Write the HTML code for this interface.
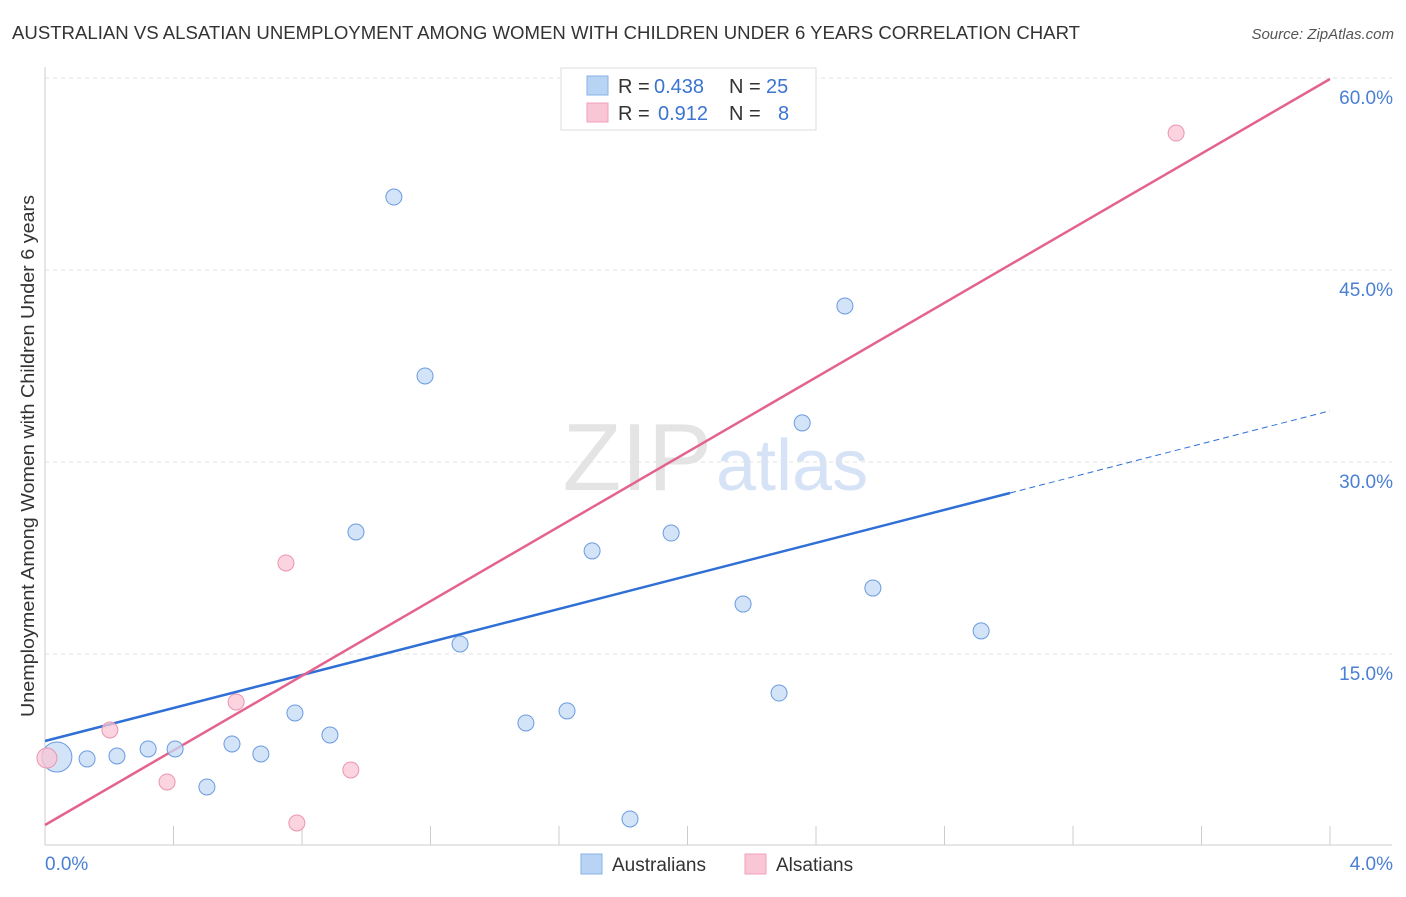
<!DOCTYPE html>
<html><head><meta charset="utf-8"><style>
body{margin:0;background:#fff;font-family:"Liberation Sans",sans-serif}
svg text{font-family:"Liberation Sans",sans-serif}
</style></head><body>
<svg id="c" width="1406" height="892">
<text x="12" y="39" font-size="18" fill="#333" textLength="1068" lengthAdjust="spacingAndGlyphs">AUSTRALIAN VS ALSATIAN UNEMPLOYMENT AMONG WOMEN WITH CHILDREN UNDER 6 YEARS CORRELATION CHART</text>
<text x="1394" y="39" font-size="15" fill="#555" font-style="italic" text-anchor="end">Source: ZipAtlas.com</text>
<text x="712" y="490" font-size="96" fill="#e4e4e4" text-anchor="end" font-family="Liberation Serif">ZIP</text>
<text x="716" y="490" font-size="72" fill="#d6e2f5">atlas</text>
<text transform="translate(34,456) rotate(-90)" font-size="18" fill="#333" text-anchor="middle" textLength="522" lengthAdjust="spacingAndGlyphs">Unemployment Among Women with Children Under 6 years</text>
<g id="grid"></g><g id="lines"></g><g id="pts"></g>
<g>
<rect x="561" y="68" width="255" height="62" fill="#fff" stroke="#ddd"/>
<rect x="587" y="76" width="21" height="19" fill="#b9d3f5" stroke="#8ab0e8"/>
<rect x="587" y="103" width="21" height="19" fill="#f9c6d6" stroke="#f0a0ba"/>
<text x="618" y="93" font-size="20" fill="#333">R =</text>
<text x="654" y="93" font-size="20" fill="#3b74d1">0.438</text>
<text x="729" y="93" font-size="20" fill="#333">N =</text>
<text x="766" y="93" font-size="20" fill="#3b74d1">25</text>
<text x="618" y="120" font-size="20" fill="#333">R =</text>
<text x="658" y="120" font-size="20" fill="#3b74d1">0.912</text>
<text x="729" y="120" font-size="20" fill="#333">N =</text>
<text x="778" y="120" font-size="20" fill="#3b74d1">8</text>
</g>
<g>
<rect x="581" y="854" width="21" height="20" fill="#b9d3f5" stroke="#8ab0e8"/>
<text x="612" y="871" font-size="19" fill="#333">Australians</text>
<rect x="745" y="854" width="21" height="20" fill="#f9c6d6" stroke="#f0a0ba"/>
<text x="776" y="871" font-size="19" fill="#333">Alsatians</text>
</g>
</svg>
<script>
const yTicks=[15,30,45,60];
const yTickLabels=["15.0%","30.0%","45.0%","60.0%"];
const xEndLabels=["0.0%","4.0%"];
const ausX=[0.037,0.131,0.224,0.321,0.405,0.504,0.582,0.672,0.778,0.887,0.968,1.086,1.183,1.292,1.497,1.625,1.703,1.821,1.949,2.173,2.285,2.357,2.490,2.577,2.914];
const ausY=[7.03,6.88,7.11,7.66,7.66,4.69,8.05,7.27,10.47,8.75,24.61,50.78,36.80,15.86,9.69,10.63,23.13,2.19,24.53,18.98,12.03,33.13,42.27,20.23,16.88];
const alsX=[0.006,0.202,0.380,0.595,0.750,0.784,0.952,3.521];
const alsY=[6.95,9.14,5.08,11.33,22.19,1.875,6.02,55.78];
const ausFit=[8.28,6.45]; // intercept, slope
const alsFit=[1.72,14.57];
const NS="http://www.w3.org/2000/svg";
const X=v=>45+v*321.25, Y=v=>847-v*12.8;
function mk(p,t,a){const e=document.createElementNS(NS,t);for(const k in a)e.setAttribute(k,a[k]);p.appendChild(e);return e;}
const g=document.getElementById('grid');
yTicks.forEach((t,i)=>{
 const l=mk(g,'line',{x1:45,x2:1392,y1:Y(t)-1,y2:Y(t)-1,stroke:'#e2e2e2','stroke-dasharray':'4,4'});
 
 
 const tx=mk(g,'text',{x:1393,y:Y(t)+25,'font-size':19,fill:'#4a7fd4','text-anchor':'end'});
 tx.textContent=yTickLabels[i];
 
 
});
const ax=mk(g,'line',{x1:45,x2:1392,y1:845,y2:845,stroke:'#ccc'});


const ay=mk(g,'line',{x1:45,x2:45,y1:67,y2:845,stroke:'#ccc'});


for(let i=1;i<=10;i++){const t=mk(g,'line',{x1:X(i*0.4),x2:X(i*0.4),y1:826,y2:845,stroke:'#ccc'});
 
 }
[[0,'start',45],[4,'end',1393]].forEach((d,i)=>{const t=mk(g,'text',{x:d[2],y:870,'font-size':19,fill:'#4a7fd4','text-anchor':d[1]});t.textContent=xEndLabels[i];
 
 });
const L=document.getElementById('lines');
let a=mk(L,'line',{x1:X(0),y1:Y(ausFit[0]),x2:X(3.004),y2:Y(ausFit[0]+ausFit[1]*3.004),stroke:'#2f6fd6','stroke-width':2.5});


a=mk(L,'line',{x1:X(3.004),y1:Y(ausFit[0]+ausFit[1]*3.004),x2:X(4.0),y2:Y(ausFit[0]+ausFit[1]*4.0),stroke:'#2f6fd6','stroke-width':1,'stroke-dasharray':'6,4'});


a=mk(L,'line',{x1:X(0),y1:Y(alsFit[0]),x2:X(4.0),y2:Y(alsFit[0]+alsFit[1]*4.0),stroke:'#e4638e','stroke-width':2.5});


const P=document.getElementById('pts');
ausX.forEach((x,i)=>{const c=mk(P,'circle',{cx:X(x),cy:Y(ausY[i]),r:i==0?15:8,fill:'#c4daf6','fill-opacity':0.75,stroke:'#6a9be0','stroke-width':1});
 
 });
alsX.forEach((x,i)=>{const c=mk(P,'circle',{cx:X(x),cy:Y(alsY[i]),r:i==0?10:8,fill:'#f9c6d6','fill-opacity':0.75,stroke:'#eb94b0','stroke-width':1});
 
 });
</script>
</body></html>
